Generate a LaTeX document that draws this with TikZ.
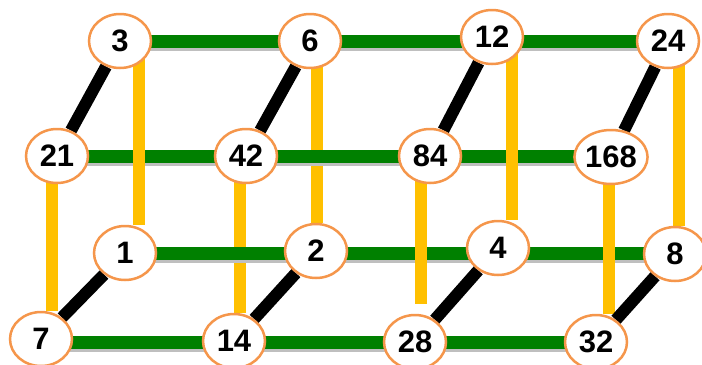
\documentclass[tikz,border=0pt]{standalone}
\usepackage{fontspec}
\setmainfont{Liberation Sans}
\usepackage{xcolor}
\usetikzlibrary{shapes.geometric,calc,backgrounds}
\definecolor{ringorange}{RGB}{245,150,75}
\definecolor{bargreen}{RGB}{0,128,0}
\definecolor{baryellow}{RGB}{255,192,0}

\begin{document}
\begin{tikzpicture}[x=1bp, y=-1bp,
				num/.style={ellipse, draw=ringorange, line width=2.5bp, fill=white, minimum width=62bp, minimum height=54bp, inner sep=0pt, font=\fontsize{31bp}{33bp}\selectfont\bfseries},
				gbar/.style={draw=bargreen, line width=13bp, preaction={draw=black!25, line width=13bp, transform canvas={yshift=-3bp}}},
				ybar/.style={draw=baryellow, line width=12bp},
				kbar/.style={draw=black, line width=12bp}]
				
				\useasboundingbox (0,0) rectangle (702,364);
				
				% back top row
				\node[num] (n3) at (120,41) {3};
				\node[num] (n6) at (310,41) {6};
				\node[num] (n12) at (492,37) {12};
				\node[num] (n24) at (668,41) {24};
				% front top row
				\node[num] (n21) at (57,156) {21};
				\node[num] (n42) at (246,156) {42};
				\node[num] (n84) at (430,156) {84};
				\node[num] (n168) at (611,157) {168};
				% back bottom row
				\node[num] (n1) at (125,253) {1};
				\node[num] (n2) at (316,251) {2};
				\node[num] (n4) at (498,248) {4};
				\node[num] (n8) at (675,254) {8};
				% front bottom row
				\node[num] (n7) at (41,339) {7};
				\node[num] (n14) at (234,341) {14};
				\node[num] (n28) at (415,342) {28};
				\node[num] (n32) at (596,342) {32};
				
				\begin{pgfonlayer}{background}
				% yellow bars lying behind the green ones
				\draw[ybar] ([xshift=7bp]n6.center) -- ([xshift=7bp]n6.center |- n2.north);
				\draw[ybar] ([xshift=-6bp]n42.center) -- ([xshift=-6bp]n42.center |- n14.north);
				
				% green bars, kept level
				\draw[gbar] (n3.center) -- (n3.center -| n6.center);
				\draw[gbar] (n6.center) -- (n6.center -| n12.center);
				\draw[gbar] (n24.center) -- (n24.center -| n12.center);
				\draw[gbar] (n21.center) -- (n21.center -| n42.center);
				\draw[gbar] (n42.center) -- (n42.center -| n84.center);
				\draw[gbar] (n84.center) -- (n84.center -| n168.center);
				\draw[gbar] (n1.center) -- (n1.center -| n2.center);
				\draw[gbar] (n1.center -| n2.center) -- (n1.center -| n4.center);
				\draw[gbar] (n1.center -| n4.center) -- (n1.center -| n8.center);
				\draw[gbar] (n28.center -| n7.center) -- (n28.center -| n14.center);
				\draw[gbar] (n28.center -| n14.center) -- (n28.center);
				\draw[gbar] (n28.center) -- (n28.center -| n32.center);
				
				% yellow bars on top
				\draw[ybar] ([xshift=19bp]n3.center) -- ([xshift=19bp]n3.center |- n1.north);
				\draw[ybar] ([xshift=20bp]n12.center) -- ([xshift=20bp]n12.center |- n4.north);
				\draw[ybar] ([xshift=11bp]n24.center) -- ([xshift=11bp]n24.center |- n8.north);
				\draw[ybar] ([xshift=-5bp]n21.center) -- ([xshift=-5bp]n21.center |- n7.north);
				\draw[ybar, shorten >=10bp] ([xshift=-9bp]n84.center) -- ([xshift=-9bp]n84.center |- n28.north);
				\draw[ybar] ([xshift=-2bp]n168.center) -- ([xshift=-2bp]n168.center |- n32.north);
				
				% black diagonals
				\draw[kbar] (n3) -- (n21);
				\draw[kbar] (n6) -- (n42);
				\draw[kbar] (n12) -- (n84);
				\draw[kbar] (n24) -- (n168);
				\draw[kbar] (n1) -- (n7);
				\draw[kbar] (n2) -- (n14);
				\draw[kbar] (n4) -- (n28);
				\draw[kbar] (n8) -- (n32);
				\end{pgfonlayer}
				
			\end{tikzpicture}
\end{document}
